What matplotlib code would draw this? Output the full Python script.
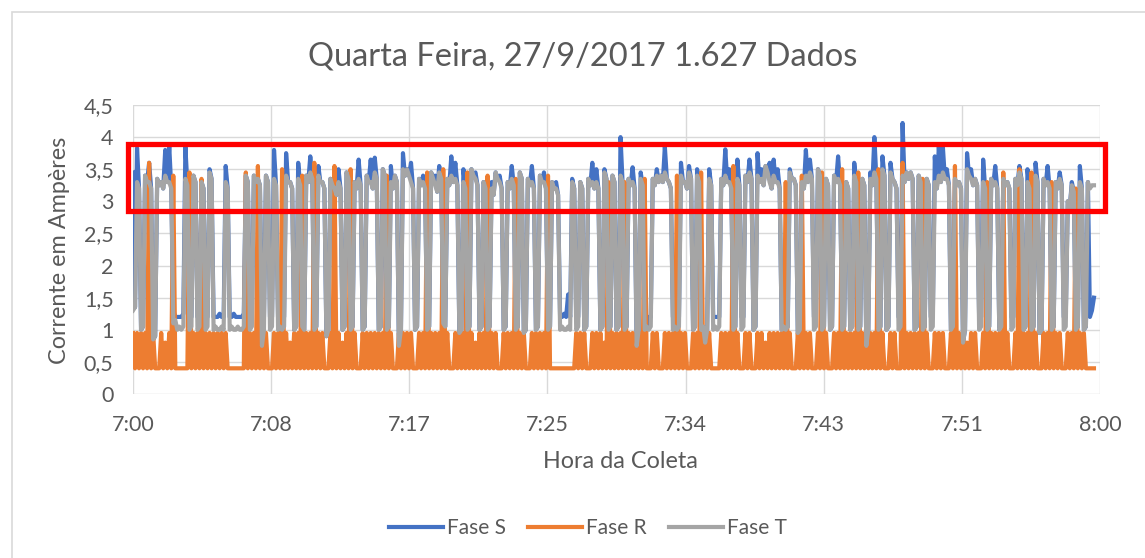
import numpy as np
import pandas as pd
import matplotlib
matplotlib.use("Agg")
import matplotlib.pyplot as plt
import matplotlib.dates as mdates
from matplotlib.patches import Rectangle

plt.rcParams['font.family'] = ['Lato', 'DejaVu Sans']

titulo = "Quarta Feira, 27/9/2017 1.627 Dados"
inicio = "2017-09-27 07:00"
fim = "2017-09-27 08:00"
passo = "7500ms"
rotulos_x = ["7:00", "7:08", "7:17", "7:25", "7:34", "7:43", "7:51", "8:00"]
valores_y = [0, 0.5, 1, 1.5, 2, 2.5, 3, 3.5, 4, 4.5]
rotulos_y = ["0", "0,5", "1", "1,5", "2", "2,5", "3", "3,5", "4", "4,5"]

# leituras a cada 7,5 s (uma linha = 2,5 minutos)
fase_t = [
    1.3, 1.35, 3.3, 3.2, 1.0, 1.05, 3.4, 3.3, 3.3, 3.2, 0.85, 0.9, 3.35, 3.25, 3.3, 3.2, 3.4, 3.3, 3.3, 3.2,
    1.1, 1.15, 1.0, 1.05, 1.0, 1.05, 3.35, 3.25, 1.0, 1.05, 3.4, 3.3, 1.0, 1.05, 3.3, 3.2, 1.0, 1.05, 3.45, 3.35,
    1.0, 1.05, 1.0, 1.0, 1.05, 1.0, 3.3, 3.2, 1.0, 1.05, 1.0, 1.0, 1.05, 1.0, 1.0, 1.05, 3.4, 3.3, 1.0, 1.05,
    3.4, 3.3, 3.35, 3.25, 0.75, 1.0, 3.4, 3.3, 1.0, 1.05, 3.35, 3.25, 1.0, 1.05, 1.0, 1.05, 3.4, 3.3, 3.3, 3.2,
    1.0, 1.05, 3.35, 3.25, 1.05, 1.0, 3.4, 3.3, 3.45, 3.35, 1.0, 1.05, 3.4, 3.3, 3.3, 3.2, 0.9, 1.0, 3.35, 3.25,
    3.2, 3.1, 3.3, 3.2, 1.0, 1.05, 3.45, 3.35, 1.0, 1.05, 3.3, 3.2, 3.35, 3.25, 1.0, 1.05, 3.4, 3.3, 3.3, 3.2,
    3.45, 3.35, 1.0, 1.05, 3.5, 3.4, 1.0, 1.05, 3.3, 3.2, 3.4, 3.3, 0.75, 1.0, 3.5, 3.4, 3.5, 3.4, 3.3, 3.2,
    1.0, 1.05, 3.35, 3.25, 3.3, 3.2, 1.0, 1.05, 3.45, 3.35, 3.25, 3.15, 3.45, 3.35, 1.1, 1.05, 3.35, 3.25, 3.4, 3.3,
    3.35, 3.25, 0.95, 1.0, 3.3, 3.2, 1.0, 1.05, 3.5, 3.4, 3.35, 3.25, 1.0, 1.05, 3.3, 3.2, 1.0, 1.05, 3.2, 3.1,
    3.45, 3.35, 3.3, 3.2, 1.0, 1.05, 3.3, 3.2, 3.35, 3.25, 1.0, 1.05, 3.45, 3.35, 0.95, 1.0, 3.35, 3.25, 3.3, 3.2,
    1.0, 1.05, 3.4, 3.3, 3.3, 3.2, 1.0, 1.05, 3.3, 3.2, 3.2, 3.1, 1.0, 1.05, 1.0, 1.0, 1.05, 1.0, 3.3, 3.2,
    1.0, 1.05, 3.3, 3.2, 1.0, 1.05, 3.35, 3.25, 3.3, 3.2, 3.3, 3.2, 1.0, 1.05, 3.45, 3.35, 1.0, 1.05, 3.4, 3.3,
    1.0, 1.05, 3.4, 3.3, 1.0, 1.05, 3.35, 3.25, 3.3, 3.2, 0.75, 1.0, 3.35, 3.25, 1.0, 1.05, 1.0, 1.05, 3.35, 3.25,
    3.4, 3.3, 3.4, 3.3, 3.45, 3.35, 3.3, 3.2, 1.0, 1.05, 1.0, 1.05, 3.4, 3.3, 3.3, 3.2, 3.45, 3.35, 1.0, 1.05,
    3.4, 3.3, 1.0, 1.05, 0.8, 1.0, 3.35, 3.25, 1.0, 1.05, 1.0, 1.05, 3.35, 3.25, 3.4, 3.3, 3.3, 3.2, 1.0, 1.05,
    3.35, 3.25, 1.0, 1.05, 3.4, 3.3, 3.45, 3.35, 1.0, 1.05, 3.4, 3.3, 3.35, 3.25, 3.55, 3.45, 3.3, 3.2, 3.4, 3.3,
    3.3, 3.2, 1.0, 1.05, 1.0, 1.05, 3.45, 3.35, 3.35, 3.25, 0.95, 1.0, 3.3, 3.2, 3.4, 3.3, 3.45, 3.35, 1.0, 1.05,
    3.5, 3.4, 1.0, 1.05, 3.35, 3.25, 1.0, 1.05, 3.4, 3.3, 3.35, 3.25, 1.0, 1.05, 3.3, 3.2, 1.0, 1.05, 3.4, 3.3,
    1.0, 1.05, 3.35, 3.25, 0.75, 1.0, 3.35, 3.25, 3.45, 3.35, 1.0, 1.05, 3.5, 3.4, 1.0, 1.05, 3.45, 3.35, 3.3, 3.2,
    1.0, 1.05, 3.4, 3.3, 3.45, 3.35, 3.45, 3.35, 1.0, 1.05, 3.4, 3.3, 1.0, 1.05, 3.35, 3.25, 1.0, 1.05, 3.3, 3.2,
    3.4, 3.3, 3.45, 3.35, 3.35, 3.25, 1.0, 1.05, 3.35, 3.25, 3.3, 3.2, 0.8, 1.0, 3.5, 3.4, 3.35, 3.25, 3.35, 3.25,
    1.0, 1.05, 3.3, 3.2, 1.0, 1.05, 3.35, 3.25, 3.3, 3.2, 1.0, 1.05, 3.35, 3.25, 3.3, 3.2, 1.0, 1.05, 3.35, 3.25,
    3.45, 3.35, 1.0, 1.05, 3.3, 3.2, 1.0, 1.05, 3.4, 3.3, 0.95, 1.0, 3.35, 3.25, 3.3, 3.2, 1.0, 1.05, 3.3, 3.2,
    3.35, 3.25, 1.0, 1.05, 3.0, 2.9, 3.25, 3.15, 1.0, 1.05, 3.3, 3.2, 1.0, 1.05, 3.3, 3.2, 3.25, 3.25,
]
fase_s = [
    3.45, 1.35, 3.83, 3.2, 1.0, 1.05, 3.4, 3.3, 3.6, 3.2, 0.85, 0.9, 3.35, 3.25, 3.3, 3.2, 3.8, 3.3, 3.85, 3.2,
    1.3, 1.2, 1.2, 1.2, 1.2, 1.25, 3.85, 3.25, 1.2, 1.2, 3.4, 3.3, 1.2, 1.2, 3.3, 3.2, 1.2, 1.2, 3.5, 3.35,
    1.2, 1.2, 1.2, 1.25, 1.2, 1.2, 3.55, 3.2, 1.2, 1.2, 1.25, 1.2, 1.2, 1.2, 1.2, 1.25, 3.4, 3.3, 1.2, 1.2,
    3.4, 3.3, 3.35, 3.25, 1.2, 1.2, 3.4, 3.3, 1.2, 1.2, 3.8, 3.25, 1.2, 1.2, 1.2, 1.2, 3.75, 3.3, 3.3, 3.2,
    1.0, 1.05, 3.6, 3.25, 1.05, 1.0, 3.4, 3.3, 3.7, 3.35, 1.0, 1.05, 3.55, 3.3, 3.3, 3.2, 0.9, 1.0, 3.35, 3.25,
    3.2, 3.1, 3.5, 3.2, 1.0, 1.05, 3.45, 3.35, 1.0, 1.05, 3.3, 3.2, 3.65, 3.25, 1.0, 1.05, 3.4, 3.3, 3.65, 3.2,
    3.68, 3.35, 1.0, 1.05, 3.5, 3.4, 1.0, 1.05, 3.55, 3.2, 3.4, 3.3, 0.75, 1.0, 3.75, 3.4, 3.5, 3.4, 3.6, 3.2,
    1.0, 1.05, 3.35, 3.25, 3.4, 3.2, 1.0, 1.05, 3.45, 3.35, 3.4, 3.15, 3.55, 3.35, 1.1, 1.05, 3.35, 3.25, 3.7, 3.3,
    3.6, 3.25, 0.95, 1.0, 3.5, 3.2, 1.0, 1.05, 3.5, 3.4, 3.45, 3.25, 1.0, 1.05, 3.3, 3.2, 1.0, 1.05, 3.3, 3.1,
    3.45, 3.35, 3.4, 3.2, 1.0, 1.05, 3.3, 3.2, 3.55, 3.25, 1.0, 1.05, 3.45, 3.35, 0.95, 1.0, 3.35, 3.25, 3.55, 3.2,
    1.0, 1.05, 3.4, 3.3, 3.45, 3.2, 1.0, 1.05, 3.3, 3.2, 3.3, 3.1, 1.2, 1.2, 1.25, 1.2, 1.55, 1.2, 3.35, 3.2,
    1.2, 1.2, 3.3, 3.2, 1.0, 1.05, 3.35, 3.25, 3.6, 3.2, 3.5, 3.2, 1.0, 1.05, 3.5, 3.35, 1.0, 1.05, 3.4, 3.3,
    1.0, 1.05, 4.0, 3.3, 1.0, 1.05, 3.35, 3.25, 3.53, 3.2, 0.75, 1.0, 3.45, 3.25, 1.0, 1.05, 1.2, 1.2, 3.35, 3.25,
    3.5, 3.3, 3.4, 3.3, 3.85, 3.35, 3.3, 3.2, 1.2, 1.2, 1.2, 1.2, 3.6, 3.3, 3.3, 3.2, 3.55, 3.35, 1.0, 1.05,
    3.5, 3.3, 1.0, 1.05, 0.8, 1.0, 3.5, 3.25, 1.2, 1.2, 1.2, 1.2, 3.35, 3.25, 3.81, 3.3, 3.5, 3.2, 1.0, 1.05,
    3.65, 3.25, 1.2, 1.2, 3.4, 3.3, 3.65, 3.35, 1.0, 1.05, 3.75, 3.3, 3.5, 3.25, 3.55, 3.45, 3.6, 3.2, 3.65, 3.3,
    3.5, 3.2, 1.0, 1.05, 1.0, 1.05, 3.5, 3.35, 3.35, 3.25, 0.95, 1.0, 3.3, 3.2, 3.8, 3.3, 3.65, 3.35, 1.2, 1.2,
    3.5, 3.4, 1.0, 1.05, 3.35, 3.25, 1.0, 1.05, 3.4, 3.3, 3.7, 3.25, 1.0, 1.05, 3.3, 3.2, 1.0, 1.05, 3.6, 3.3,
    1.0, 1.05, 3.35, 3.25, 0.75, 1.0, 3.45, 3.25, 4.0, 3.35, 1.0, 1.05, 3.7, 3.4, 1.0, 1.05, 3.6, 3.35, 3.3, 3.2,
    1.2, 1.2, 4.22, 3.3, 3.45, 3.35, 3.45, 3.35, 1.0, 1.05, 3.4, 3.3, 1.0, 1.05, 3.35, 3.25, 1.2, 1.2, 3.7, 3.2,
    3.85, 3.3, 3.85, 3.35, 3.5, 3.25, 1.0, 1.05, 3.35, 3.25, 3.3, 3.2, 0.8, 1.0, 3.75, 3.4, 3.5, 3.25, 3.35, 3.25,
    1.2, 1.2, 3.65, 3.2, 1.0, 1.05, 3.35, 3.25, 3.55, 3.2, 1.0, 1.05, 3.35, 3.25, 3.3, 3.2, 1.2, 1.2, 3.35, 3.25,
    3.55, 3.35, 1.0, 1.05, 3.5, 3.2, 1.0, 1.05, 3.6, 3.3, 0.95, 1.0, 3.35, 3.25, 3.55, 3.2, 1.0, 1.05, 3.3, 3.2,
    3.45, 3.25, 1.2, 1.2, 3.0, 2.9, 3.3, 3.15, 1.0, 1.05, 3.55, 3.2, 1.0, 1.05, 3.3, 1.2, 1.3, 1.5,
]
fase_r = [
    0.95, 0.4, 0.95, 0.4, 0.95, 0.4, 0.95, 0.4, 3.6, 0.4, 0.95, 0.4, 0.4, 0.4, 0.95, 0.4, 0.8, 0.4, 0.95, 0.4,
    3.4, 0.4, 0.4, 0.4, 0.4, 0.4, 0.4, 0.4, 3.45, 0.4, 0.95, 0.4, 0.95, 0.4, 3.35, 0.4, 0.95, 0.4, 0.95, 0.4,
    0.95, 0.4, 0.95, 0.4, 0.95, 0.4, 0.95, 0.4, 0.4, 0.4, 0.4, 0.4, 0.4, 0.4, 0.4, 0.4, 3.45, 0.4, 0.95, 0.4,
    0.95, 0.4, 3.55, 0.4, 0.95, 0.4, 0.95, 0.4, 0.4, 0.4, 0.95, 0.4, 0.95, 0.4, 3.5, 0.4, 0.95, 0.4, 0.8, 0.4,
    0.95, 0.4, 0.95, 0.4, 3.4, 0.4, 0.95, 0.4, 0.95, 0.4, 3.6, 0.4, 0.95, 0.4, 0.95, 0.4, 0.4, 0.4, 0.95, 0.4,
    3.55, 0.4, 0.95, 0.4, 0.8, 0.4, 0.95, 0.4, 3.5, 0.4, 0.95, 0.4, 0.4, 0.4, 0.95, 0.4, 0.95, 0.4, 0.95, 0.4,
    0.95, 0.4, 0.95, 0.4, 0.95, 0.4, 3.4, 0.4, 0.95, 0.4, 0.4, 0.4, 0.95, 0.4, 0.95, 0.4, 0.95, 0.4, 0.95, 0.4,
    0.4, 0.4, 0.95, 0.4, 0.95, 0.4, 3.45, 0.4, 0.95, 0.4, 0.95, 0.4, 0.95, 0.4, 3.5, 0.4, 0.95, 0.4, 0.4, 0.4,
    0.95, 0.4, 0.95, 0.4, 0.95, 0.4, 3.45, 0.4, 0.95, 0.4, 0.8, 0.4, 0.95, 0.4, 0.95, 0.4, 3.4, 0.4, 0.95, 0.4,
    0.95, 0.4, 0.4, 0.4, 0.95, 0.4, 0.95, 0.4, 0.95, 0.4, 3.35, 0.4, 0.95, 0.4, 0.95, 0.4, 0.4, 0.4, 0.95, 0.4,
    0.95, 0.4, 0.95, 0.4, 0.95, 0.4, 3.4, 0.4, 0.4, 0.4, 0.4, 0.4, 0.4, 0.4, 0.4, 0.4, 0.4, 0.4, 0.4, 0.4,
    0.95, 0.4, 0.95, 0.4, 0.95, 0.4, 0.4, 0.4, 0.95, 0.4, 0.95, 0.4, 0.95, 0.4, 0.8, 0.4, 3.3, 0.4, 0.95, 0.4,
    0.95, 0.4, 0.95, 0.4, 3.3, 0.4, 0.95, 0.4, 0.95, 0.4, 0.95, 0.4, 0.95, 0.4, 3.35, 0.4, 0.4, 0.4, 0.95, 0.4,
    0.95, 0.4, 0.4, 0.4, 0.95, 0.4, 0.95, 0.4, 0.95, 0.4, 3.4, 0.4, 0.95, 0.4, 0.95, 0.4, 0.4, 0.4, 0.95, 0.4,
    0.95, 0.4, 3.45, 0.4, 0.95, 0.4, 0.95, 0.4, 0.4, 0.4, 0.4, 0.4, 0.95, 0.4, 0.95, 0.4, 0.95, 0.4, 3.55, 0.4,
    0.95, 0.4, 0.4, 0.4, 0.95, 0.4, 0.95, 0.4, 0.4, 0.4, 0.95, 0.4, 0.95, 0.4, 0.8, 0.4, 0.95, 0.4, 0.95, 0.4,
    0.95, 0.4, 0.95, 0.4, 3.3, 0.4, 0.95, 0.4, 0.4, 0.4, 0.95, 0.4, 3.4, 0.4, 0.95, 0.4, 0.95, 0.4, 0.4, 0.4,
    0.95, 0.4, 3.45, 0.4, 0.95, 0.4, 0.4, 0.4, 0.95, 0.4, 0.95, 0.4, 3.5, 0.4, 0.95, 0.4, 0.95, 0.4, 0.95, 0.4,
    3.45, 0.4, 0.95, 0.4, 0.95, 0.4, 0.95, 0.4, 0.95, 0.4, 3.5, 0.4, 0.95, 0.4, 0.4, 0.4, 0.95, 0.4, 0.95, 0.4,
    0.4, 0.4, 3.6, 0.4, 0.95, 0.4, 0.95, 0.4, 0.95, 0.4, 0.95, 0.4, 3.35, 0.4, 0.95, 0.4, 0.4, 0.4, 0.95, 0.4,
    0.95, 0.4, 0.95, 0.4, 0.4, 0.4, 0.95, 0.4, 3.55, 0.4, 0.95, 0.4, 0.95, 0.4, 0.8, 0.4, 0.95, 0.4, 0.95, 0.4,
    0.4, 0.4, 0.95, 0.4, 3.3, 0.4, 0.95, 0.4, 0.95, 0.4, 0.95, 0.4, 3.45, 0.4, 0.95, 0.4, 0.4, 0.4, 0.95, 0.4,
    3.5, 0.4, 0.95, 0.4, 0.95, 0.4, 3.45, 0.4, 0.95, 0.4, 0.4, 0.4, 0.95, 0.4, 0.95, 0.4, 3.3, 0.4, 0.95, 0.4,
    0.95, 0.4, 0.4, 0.4, 0.95, 0.4, 0.95, 0.4, 3.2, 0.4, 0.95, 0.4, 0.95, 0.4, 0.4, 0.4, 0.4, 0.4,
]

hora = pd.date_range(inicio, periods=len(fase_t), freq=passo)

cinza_txt = "#595959"
fig = plt.figure(figsize=(11.45, 5.58), dpi=100)
ax = fig.add_axes([133 / 1145, 1 - 394 / 558, (1100 - 133) / 1145, (394 - 105) / 558])

ax.plot(hora, fase_s, color="#4472C4", lw=3, label="Fase S")
ax.plot(hora, fase_r, color="#ED7D31", lw=3, label="Fase R")
ax.plot(hora, fase_t, color="#A5A5A5", lw=3, label="Fase T")

t0 = mdates.date2num(pd.Timestamp(inicio))
t1 = mdates.date2num(pd.Timestamp(fim))
ax.set_xlim(t0, t1)
ax.set_ylim(0, 4.5)
ax.set_xticks(np.linspace(t0, t1, len(rotulos_x)))
ax.set_xticklabels(rotulos_x)
ax.set_yticks(valores_y)
ax.set_yticklabels(rotulos_y)
ax.tick_params(length=0, labelsize=15.5, labelcolor=cinza_txt)
ax.tick_params(axis="y", pad=14)
ax.tick_params(axis="x", pad=15)
ax.grid(True, color="#d9d9d9", lw=1)
ax.set_axisbelow(True)
for s in ax.spines.values():
    s.set_visible(False)

# destaque em vermelho
x_a = t0 - 0.31 / 1440
x_b = t0 + 60.3 / 1440
ax.add_patch(Rectangle((x_a, 2.85), x_b - x_a, 3.89 - 2.85, fill=False,
                       edgecolor="#FF0000", lw=3.8, clip_on=False, zorder=5))

fig.text(583 / 1145, 1 - 57 / 558, titulo, ha="center", va="center", fontsize=23.5, color=cinza_txt)
fig.text(620 / 1145, 1 - 462 / 558, "Hora da Coleta", ha="center", va="center", fontsize=16.8, color=cinza_txt)
fig.text(60 / 1145, 1 - 250 / 558, "Corrente em Ampères", ha="center", va="center",
         rotation=90, fontsize=16.8, color=cinza_txt)

leg = fig.legend(loc="center", bbox_to_anchor=(588 / 1145, 1 - 528 / 558), ncol=3, frameon=False,
                 fontsize=15, handlelength=2.6, columnspacing=1.05, handletextpad=0.2)
for t in leg.get_texts():
    t.set_color(cinza_txt)

# moldura do grafico
fig.add_artist(Rectangle((12 / 1145, -0.01), 1.2, 1 - 12 / 558 + 0.01, transform=fig.transFigure,
                         fill=False, edgecolor="#d9d9d9", lw=1.2))

fig.savefig("out.png", dpi=100)
